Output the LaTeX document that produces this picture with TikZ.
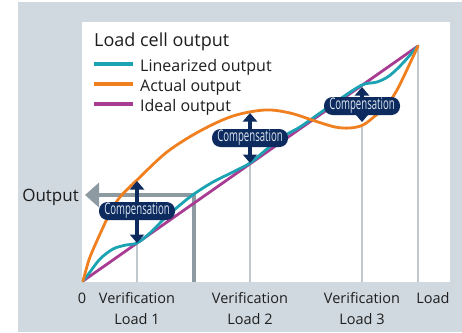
\documentclass[tikz,border=0pt]{standalone}
\usepackage{fontspec}
\setmainfont{Open Sans}
\newfontfamily\narrowfont[FakeStretch=0.6]{Open Sans}
\usetikzlibrary{arrows.meta}

\definecolor{panel}{HTML}{D0D9DF}
\definecolor{gridgray}{HTML}{BFC8CD}
\definecolor{outgray}{HTML}{8E9AA1}
\definecolor{tealc}{HTML}{1BA3B3}
\definecolor{orangec}{HTML}{F0801F}
\definecolor{magentac}{HTML}{A83C92}
\definecolor{navy}{HTML}{0D2B5E}
\definecolor{comptext}{HTML}{DCE6F2}
\definecolor{labeltext}{HTML}{1E1E1E}

\tikzset{
  curve/.style={line width=2.8pt, line cap=round, line join=round},
  guide/.style={gridgray, line width=1.3pt},
  legendline/.style={line width=3.2pt},
  legendtext/.style={anchor=base west, inner sep=0pt, font=\fontsize{16}{17}\selectfont, text=labeltext},
  axislabel/.style={anchor=base, inner sep=0pt, align=center, text=labeltext,
    font=\fontsize{14.5}{21}\selectfont},
  comparrow/.style={navy, line width=3.2pt,
    {Triangle[width=14pt,length=8.5pt]}-{Triangle[width=14pt,length=8.5pt]}},
  compbox/.style={fill=navy, rounded corners=8.5pt, minimum width=76pt,
    minimum height=18pt, inner sep=0pt, text=comptext,
    font=\narrowfont\fontsize{16}{16}\selectfont},
}

\begin{document}
\begin{tikzpicture}[x=1pt,y=-1pt]
\useasboundingbox (0,0) rectangle (462,332);

% panel and plot area
\fill[panel] (18,2) rectangle (462,332);
\fill[white] (82,22) rectangle (450,282);

% guide lines from the load axis up to the curves
\draw[guide] (137,282) -- (137,243);
\draw[guide] (250,282) -- (250,163);
\draw[guide] (362,282) -- (362,127);
\draw[guide] (418,282) -- (418,46);

% reading of the output value
\draw[outgray, line width=4.5pt, line join=miter,
  -{Triangle[width=24pt,length=14pt]}] (194,282) -- (194,195) -- (85,195);

% ideal output
\draw[curve, magentac] (83,281) -- (418,46);

% linearized output
\draw[curve, tealc] plot[smooth, tension=0.55] coordinates {
  (83,281) (90,272) (100,259) (113,249) (126,245) (137,243)
  (150,233) (165,218) (180,205) (194,194) (213,182) (233,172) (250,163)
  (267,149) (284,136) (300,127) (320,113) (340,99) (362,85)
  (377,82) (389,76) (402,64) (418,46)};

% actual output
\draw[curve, orangec] plot[smooth, tension=0.55] coordinates {
  (83,281) (86,270) (90,257) (100,234) (110,213) (120,197) (137,180)
  (167,152) (200,131) (233,116) (265,110) (290,113) (315,121)
  (335,127) (350,128) (363,125) (375,116) (384,108) (397,90) (418,46)};

% compensation arrows and labels
\draw[comparrow] (137,181) -- (137,243);
\draw[comparrow] (250,113) -- (250,163);
\draw[comparrow] (362,87) -- (362,122);
\node[compbox] (comp1) at (137,211) {Compensation};
\node[compbox] (comp2) at (250,138) {Compensation};
\node[compbox] (comp3) at (362,106) {Compensation};

% legend
\node[anchor=base west, inner sep=0pt, text=labeltext,
  font=\fontsize{18}{19}\selectfont] (title) at (94,46) {Load cell output};
\draw[legendline, tealc] (94,64) -- (133,64);
\draw[legendline, orangec] (94,84) -- (133,84);
\draw[legendline, magentac] (94,104) -- (133,104);
\node[legendtext] (leglin) at (140,71) {Linearized output};
\node[legendtext] (legact) at (140,91) {Actual output};
\node[legendtext] (legide) at (140,111) {Ideal output};

% axis labels (two-line labels sit on the baseline of their last line)
\node[anchor=base east, inner sep=0pt, text=labeltext,
  font=\fontsize{17}{19}\selectfont] (outlabel) at (79,201) {Output};
\node[axislabel] (zero) at (82,303) {0};
\node[axislabel] (vl1) at (137,324) {Verification\\Load 1};
\node[axislabel] (vl2) at (250,324) {Verification\\Load 2};
\node[axislabel] (vl3) at (362,324) {Verification\\Load 3};
\node[axislabel] (loadlabel) at (433,303) {Load};
\end{tikzpicture}
\end{document}
